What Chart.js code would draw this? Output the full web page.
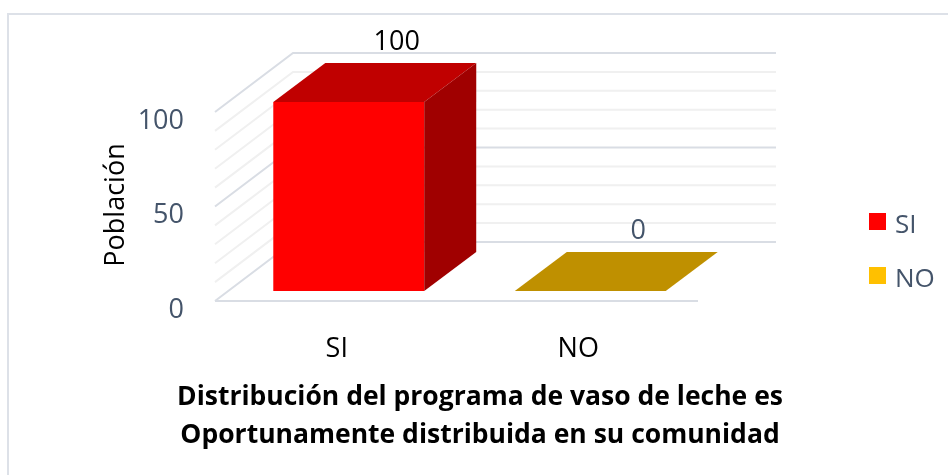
<!DOCTYPE html>
<html lang="es">
<head>
<meta charset="utf-8">
<title>Distribución del programa de vaso de leche</title>
<script src="https://cdn.jsdelivr.net/npm/chart.js@4.4.1/dist/chart.umd.min.js"></script>
<style>
  html, body { margin: 0; padding: 0; background: #fff; }
  #wrap { width: 948px; height: 475px; }
</style>
</head>
<body>
<div id="wrap"><canvas id="grafico" width="948" height="475"></canvas></div>
<script>
// datos
const categorias = ['SI', 'NO'];
const poblacion = [100, 0];
const marcasY = [0, 50, 100];
const lineasGuia = [0, 10, 20, 30, 40, 50, 60, 70, 80, 90, 100];
const tituloEjeY = 'Población';
const tituloX = ['Distribución del programa de vaso de leche es', 'Oportunamente distribuida en su comunidad'];

// colores de cada barra: frente, techo, lado
const colorFrente = ['#FF0000', '#FFC000'];
const colorTecho = ['#C00000', '#BF9000'];
const colorLado = ['#A00000', '#9E7700'];
const colorEtiqueta = ['#000000', '#44546A'];
const gris = '#44546A';

// desplazamientos de la perspectiva (px)
const fondo = { dx: 52, dy: -39 };         // frente de la barra -> cara trasera
const paredAtras = { dx: 65, dy: -49 };    // plano de barras -> pared del fondo
const paredDelante = { dx: -13, dy: 10 };  // plano de barras -> borde delantero

const efecto3d = {
  id: 'efecto3d',
  beforeDraw(chart) {
    const ctx = chart.ctx;
    ctx.save();
    ctx.strokeStyle = '#DDE1E8';
    ctx.lineWidth = 2;
    ctx.strokeRect(8, 14, 1000, 1000);
    ctx.restore();
  },
  beforeDatasetsDraw(chart) {
    const { ctx, chartArea: a, scales: { y } } = chart;
    ctx.save();
    ctx.lineWidth = 2;
    lineasGuia.forEach(v => {
      const py = y.getPixelForValue(v);
      ctx.strokeStyle = marcasY.includes(v) ? '#D9DDE4' : '#F0F0F0';
      ctx.beginPath();
      ctx.moveTo(a.left + paredDelante.dx, py + paredDelante.dy);
      ctx.lineTo(a.left + paredAtras.dx, py + paredAtras.dy);
      ctx.lineTo(a.right + paredAtras.dx, py + paredAtras.dy);
      ctx.stroke();
    });
    // borde delantero del piso
    const p0 = y.getPixelForValue(0);
    ctx.strokeStyle = '#D9DDE4';
    ctx.beginPath();
    ctx.moveTo(a.left + paredDelante.dx, p0 + paredDelante.dy);
    ctx.lineTo(a.right + paredDelante.dx, p0 + paredDelante.dy);
    ctx.stroke();
    ctx.restore();
  },
  afterDatasetsDraw(chart) {
    const ctx = chart.ctx;
    const barras = chart.getDatasetMeta(0).data;
    ctx.save();
    barras.forEach((b, i) => {
      const { x, y, base, width } = b.getProps(['x', 'y', 'base', 'width'], true);
      const izq = x - width / 2, der = x + width / 2;
      // techo
      ctx.fillStyle = colorTecho[i];
      ctx.beginPath();
      ctx.moveTo(izq, y);
      ctx.lineTo(der, y);
      ctx.lineTo(der + fondo.dx, y + fondo.dy);
      ctx.lineTo(izq + fondo.dx, y + fondo.dy);
      ctx.closePath();
      ctx.fill();
      // lado derecho
      if (base - y > 0) {
        ctx.fillStyle = colorLado[i];
        ctx.beginPath();
        ctx.moveTo(der, y);
        ctx.lineTo(der + fondo.dx, y + fondo.dy);
        ctx.lineTo(der + fondo.dx, base + fondo.dy);
        ctx.lineTo(der, base);
        ctx.closePath();
        ctx.fill();
      }
      // etiqueta de valor
      ctx.fillStyle = colorEtiqueta[i];
      ctx.font = '27px "Open Sans"';
      ctx.textAlign = 'center';
      ctx.textBaseline = 'middle';
      ctx.fillText(String(poblacion[i]), x + 48, y - 60);
    });
    ctx.restore();
  },
  afterDraw(chart) {
    const ctx = chart.ctx;
    ctx.save();
    // titulo del eje Y
    ctx.translate(116, 205);
    ctx.rotate(-Math.PI / 2);
    ctx.fillStyle = '#000';
    ctx.font = '27px "Open Sans"';
    ctx.textAlign = 'center';
    ctx.textBaseline = 'middle';
    ctx.fillText(tituloEjeY, 0, 0);
    ctx.restore();

    ctx.save();
    // titulo inferior
    ctx.fillStyle = '#000';
    ctx.font = 'bold 26.5px "Open Sans"';
    ctx.textAlign = 'center';
    ctx.textBaseline = 'alphabetic';
    ctx.fillText(tituloX[0], 480, 405);
    ctx.fillText(tituloX[1], 480, 443);

    // leyenda
    ctx.font = '26px "Open Sans"';
    ctx.textAlign = 'left';
    ctx.textBaseline = 'middle';
    categorias.forEach((c, i) => {
      const top = 213 + i * 54;
      ctx.fillStyle = colorFrente[i];
      ctx.fillRect(869, top, 17, 17);
      ctx.fillStyle = gris;
      ctx.fillText(c, 895, top + 13);
    });
    ctx.restore();
  }
};

new Chart(document.getElementById('grafico'), {
  type: 'bar',
  data: {
    labels: categorias,
    datasets: [{
      label: tituloEjeY,
      data: poblacion,
      backgroundColor: colorFrente,
      borderWidth: 0,
      categoryPercentage: 1,
      barPercentage: 0.625
    }]
  },
  options: {
    responsive: false,
    animation: false,
    layout: { padding: { left: 138, right: 237, top: 102, bottom: 104 } },
    plugins: {
      legend: { display: false },
      tooltip: { enabled: false }
    },
    scales: {
      x: {
        grid: { display: false, drawTicks: false },
        border: { display: false },
        ticks: { color: '#000', font: { family: 'Open Sans', size: 27 }, padding: 42, labelOffset: -12 },
        afterFit(s) { s.height = 80; }
      },
      y: {
        min: 0,
        max: 100,
        grid: { display: false, drawTicks: false },
        border: { display: false },
        ticks: { color: gris, font: { family: 'Open Sans', size: 27 }, padding: 44, labelOffset: 19 },
        afterBuildTicks(s) { s.ticks = marcasY.map(v => ({ value: v })); },
        afterFit(s) { s.width = 90; }
      }
    }
  },
  plugins: [efecto3d]
});
</script>
</body>
</html>
